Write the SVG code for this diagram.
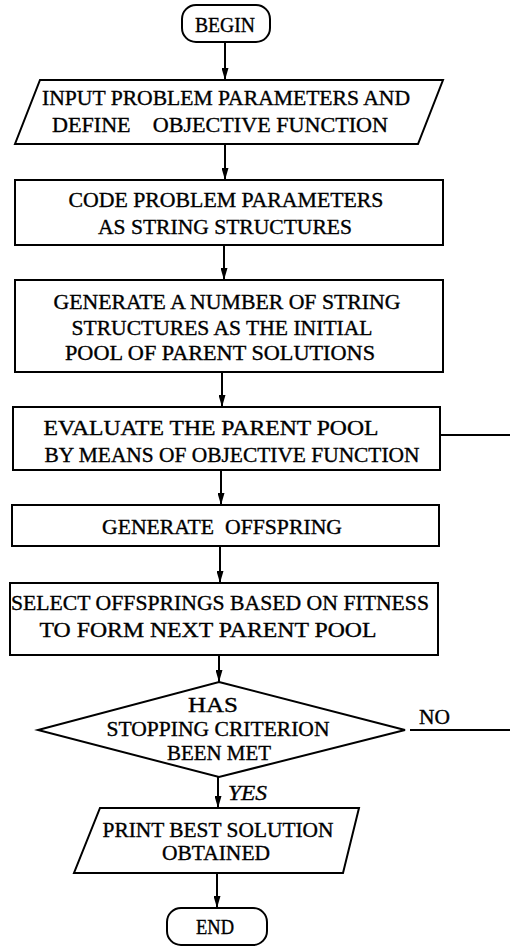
<svg xmlns="http://www.w3.org/2000/svg" width="510" height="947" viewBox="0 0 510 947">
<style>
.s{fill:#fff;stroke:#000;stroke-width:2}
.t{font-family:'Liberation Serif','Times New Roman','DejaVu Serif',serif;font-size:21px;fill:#000;stroke:#000;stroke-width:0.35;text-anchor:middle}
.c{stroke:#000;stroke-width:2;fill:none}
</style>
<defs>
<marker id="ah" markerUnits="userSpaceOnUse" markerWidth="13" markerHeight="7" refX="12" refY="3.5" orient="auto">
<path d="M0,0 L12,3.5 L0,7 Z" fill="#000"/>
</marker>
</defs>
<rect width="510" height="947" fill="#fff"/>
<g id="connectors">
<line class="c" x1="225" y1="42" x2="225" y2="80" marker-end="url(#ah)"/>
<line class="c" x1="225" y1="144" x2="225" y2="180" marker-end="url(#ah)"/>
<line class="c" x1="224" y1="245" x2="224" y2="280" marker-end="url(#ah)"/>
<line class="c" x1="222" y1="372" x2="222" y2="407" marker-end="url(#ah)"/>
<line class="c" x1="221" y1="470" x2="221" y2="505" marker-end="url(#ah)"/>
<line class="c" x1="220" y1="546" x2="220" y2="583" marker-end="url(#ah)"/>
<line class="c" x1="219" y1="655" x2="219" y2="682" marker-end="url(#ah)"/>
<line class="c" x1="218" y1="777" x2="218" y2="808" marker-end="url(#ah)"/>
<line class="c" x1="217" y1="873" x2="217" y2="908" marker-end="url(#ah)"/>
<line class="c" x1="440" y1="435" x2="510" y2="435"/>
<line class="c" x1="410" y1="730" x2="510" y2="730"/>
<text class="t" x="419" y="724" style="text-anchor:start" textLength="31" lengthAdjust="spacingAndGlyphs">NO</text>
<text class="t" x="228" y="800" style="text-anchor:start;font-style:italic" textLength="39" lengthAdjust="spacingAndGlyphs">YES</text>
</g>
<g id="begin">
<rect class="s" x="182" y="5" width="88" height="37" rx="14"/>
<text class="t" x="225" y="32" textLength="60" lengthAdjust="spacingAndGlyphs">BEGIN</text>
</g>
<g id="input">
<polygon class="s" points="40,80 443,80 418,144 15,144"/>
<text class="t" x="226" y="105" textLength="368" lengthAdjust="spacingAndGlyphs">INPUT PROBLEM PARAMETERS AND</text>
<text class="t" x="220" y="132" xml:space="preserve" textLength="336" lengthAdjust="spacingAndGlyphs">DEFINE    OBJECTIVE FUNCTION</text>
</g>
<g id="code">
<rect class="s" x="15" y="180" width="428" height="65"/>
<text class="t" x="226" y="207" textLength="315" lengthAdjust="spacingAndGlyphs">CODE PROBLEM PARAMETERS</text>
<text class="t" x="225" y="234" textLength="254" lengthAdjust="spacingAndGlyphs">AS STRING STRUCTURES</text>
</g>
<g id="generate">
<rect class="s" x="15" y="280" width="428" height="92"/>
<text class="t" x="227" y="309" textLength="347" lengthAdjust="spacingAndGlyphs">GENERATE A NUMBER OF STRING</text>
<text class="t" x="222" y="335" textLength="301" lengthAdjust="spacingAndGlyphs">STRUCTURES AS THE INITIAL</text>
<text class="t" x="220" y="360" textLength="310" lengthAdjust="spacingAndGlyphs">POOL OF PARENT SOLUTIONS</text>
</g>
<g id="evaluate">
<rect class="s" x="13" y="407" width="427" height="63"/>
<text class="t" x="211" y="435" textLength="335" lengthAdjust="spacingAndGlyphs">EVALUATE THE PARENT POOL</text>
<text class="t" x="232" y="462" textLength="375" lengthAdjust="spacingAndGlyphs">BY MEANS OF OBJECTIVE FUNCTION</text>
</g>
<g id="offspring">
<rect class="s" x="12" y="505" width="427" height="41"/>
<text class="t" x="222" y="534" xml:space="preserve" textLength="240" lengthAdjust="spacingAndGlyphs">GENERATE  OFFSPRING</text>
</g>
<g id="select">
<rect class="s" x="10" y="583" width="428" height="72"/>
<text class="t" x="220" y="610" textLength="418" lengthAdjust="spacingAndGlyphs">SELECT OFFSPRINGS BASED ON FITNESS</text>
<text class="t" x="208" y="637" textLength="337" lengthAdjust="spacingAndGlyphs">TO FORM NEXT PARENT POOL</text>
</g>
<g id="decision">
<polygon class="s" points="219,682 405,730 219,777 38,730"/>
<text class="t" x="213" y="712" textLength="50" lengthAdjust="spacingAndGlyphs">HAS</text>
<text class="t" x="218" y="736" textLength="223" lengthAdjust="spacingAndGlyphs">STOPPING CRITERION</text>
<text class="t" x="219" y="760" textLength="104" lengthAdjust="spacingAndGlyphs">BEEN MET</text>
</g>
<g id="print">
<polygon class="s" points="100,808 359,808 343,873 74,873"/>
<text class="t" x="218" y="837" textLength="231" lengthAdjust="spacingAndGlyphs">PRINT BEST SOLUTION</text>
<text class="t" x="216" y="860" textLength="108" lengthAdjust="spacingAndGlyphs">OBTAINED</text>
</g>
<g id="end">
<rect class="s" x="167" y="908" width="100" height="37" rx="14"/>
<text class="t" x="215" y="934" textLength="38" lengthAdjust="spacingAndGlyphs">END</text>
</g>
</svg>
